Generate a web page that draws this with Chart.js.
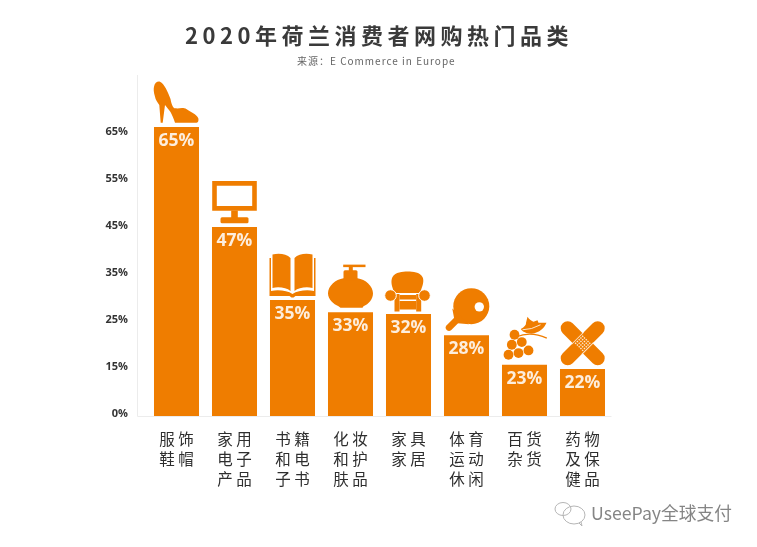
<!DOCTYPE html>
<html>
<head>
<meta charset="utf-8">
<style>
  html, body { margin: 0; padding: 0; background: #fff; }
  #wrap { width: 757px; height: 547px; }
</style>
<script src="https://cdn.jsdelivr.net/npm/chart.js@4"></script>
</head>
<body>
<div id="wrap"><canvas id="chart"></canvas></div>
<script>
const titleText = '2020年荷兰消费者网购热门品类';
const sourceText = '来源：E Commerce in Europe';
const watermarkText = 'UseePay全球支付';

const categories = [
  ['服 饰', '鞋 帽'],
  ['家 用', '电 子', '产 品'],
  ['书 籍', '和 电', '子 书'],
  ['化 妆', '和 护', '肤 品'],
  ['家 具', '家 居'],
  ['体 育', '运 动', '休 闲'],
  ['百 货', '杂 货'],
  ['药 物', '及 保', '健 品']
];
// printed share on each bar
const barLabels = ['65%', '47%', '35%', '33%', '32%', '28%', '23%', '22%'];
// bar height, in axis steps (the printed ticks are evenly spaced but not evenly valued)
const barHeights = [6.15, 4.02, 2.47, 2.21, 2.17, 1.72, 1.09, 1.0];
const tickLabels = ['0%', '15%', '25%', '35%', '45%', '55%', '65%'];

const ORANGE = '#ef7d00';

// icons sit on top of the bars, local coordinates: 0,0 is the middle of the bar top
function fillPath(ctx, d) {
  ctx.fill(new Path2D(d));
}

function drawShoe(ctx) {
  fillPath(ctx, 'M-16.5,-45.3 C-12,-43 -9,-36 -6,-28 C-5,-22 -3,-18.7 -1.5,-18.7 C3,-18 6,-20 10.2,-17.7 C14,-15 20,-13 21.8,-8.7 C22.5,-5.5 21,-4.3 20.2,-4.3 L-1.5,-4.3 C-3,-9 -4.5,-12 -6,-15 C-8,-18 -10,-20 -11.5,-22 L-13.8,-4.3 L-15.8,-4.3 L-17.2,-22 C-19,-25 -21,-27 -21.5,-30.3 C-23,-35 -23,-38 -22.5,-40.3 C-22,-44 -19,-46 -16.5,-45.3 Z');
}

function drawMonitor(ctx) {
  ctx.fill(new Path2D('M-22.3,-46 H22.3 V-16.3 H-22.3 Z M-17.7,-41.3 V-21 H17.7 V-41.3 Z'), 'evenodd');
  ctx.fillRect(-3.3, -16.5, 6.6, 8);
  ctx.beginPath();
  ctx.roundRect(-14, -9.7, 28, 6, 1.5);
  ctx.fill();
}

function drawBook(ctx) {
  fillPath(ctx, 'M-2,-42 C-6,-46 -13,-47 -20,-45.5 L-20,-12 C-13,-13.5 -6,-12 -2,-9 Z');
  fillPath(ctx, 'M2,-42 C6,-46 13,-47 20,-45.5 L20,-12 C13,-13.5 6,-12 2,-9 Z');
  fillPath(ctx, 'M-23,-42 L-23,-4 L-3,-4 L-1,-2.5 L1,-2.5 L3,-4 L23,-4 L23,-42 L21.5,-42 L21.5,-9 C13,-10.5 5,-9 0,-6 C-5,-9 -13,-10.5 -21.5,-9 L-21.5,-42 Z');
}

function drawBottle(ctx) {
  fillPath(ctx, 'M-7,-34 C-15,-33 -22.5,-26 -22.5,-19 C-22.5,-13 -17,-8 -12,-6 L-10,-4.5 L12,-4.5 L13,-6 C18,-8 22.5,-13 22.5,-19 C22.5,-26 15,-33 7,-34 Z');
  ctx.beginPath();
  ctx.roundRect(-7, -42, 14, 10, 1.5);
  ctx.fill();
  ctx.fillRect(-1.7, -47, 4, 6);
  ctx.fillRect(-7.3, -47.5, 22.3, 2.5);
}

function drawSofa(ctx) {
  fillPath(ctx, 'M-14,-21 C-17,-28 -18,-33 -16,-37 C-13,-42 -6,-42.5 -1,-42.5 C5,-42.5 11,-42 14,-37 C16,-33 14,-28 11.5,-21 Z');
  ctx.fillRect(-14, -20, 5, 17.5);
  ctx.fillRect(7.7, -20, 5, 17.5);
  ctx.fillRect(-9, -19, 16.7, 4.5);
  ctx.fillRect(-9, -13, 16.7, 8.5);
  // curled arms, split from the frame by a thin white edge
  ctx.strokeStyle = '#fff';
  ctx.lineWidth = 1;
  [[-18, -18.5], [16, -18.5]].forEach(([ax, ay]) => {
    ctx.beginPath();
    ctx.arc(ax, ay, 5.8, 0, Math.PI * 2);
    ctx.fill();
    ctx.stroke();
  });
}

function drawPaddle(ctx) {
  ctx.beginPath();
  ctx.arc(4.8, -29, 18, 0, Math.PI * 2);
  ctx.fill();
  fillPath(ctx, 'M-14.2,-26.7 L-12,-15 L-9,-12 L2.5,-11 Z');
  ctx.strokeStyle = ORANGE;
  ctx.lineWidth = 6.5;
  ctx.lineCap = 'round';
  ctx.beginPath();
  ctx.moveTo(-9, -16);
  ctx.lineTo(-17.5, -7.5);
  ctx.stroke();
  ctx.fillStyle = '#fff';
  ctx.beginPath();
  ctx.arc(12.8, -28.3, 4.7, 0, Math.PI * 2);
  ctx.fill();
}

function drawGrapes(ctx) {
  const balls = [[-10, -30], [-2.7, -22.7], [-12.7, -20], [4, -14.3], [-6, -11.7], [-16, -10]];
  balls.forEach(([bx, by]) => {
    ctx.beginPath();
    ctx.arc(bx, by, 4.9, 0, Math.PI * 2);
    ctx.fill();
  });
  fillPath(ctx, 'M3,-48 C5,-45 7,-44 9,-43 L13,-44.5 L14,-42 L22,-42 C20,-37 15,-32 7,-31 C2,-31 -2,-33 -3.7,-35.7 C0,-38 2,-40 1.5,-42 Z');
  ctx.strokeStyle = ORANGE;
  ctx.lineWidth = 1.3;
  ctx.beginPath();
  ctx.moveTo(-8, -28);
  ctx.quadraticCurveTo(6, -34, 22.3, -26.7);
  ctx.stroke();
  ctx.strokeStyle = '#fff';
  ctx.lineWidth = 0.8;
  ctx.beginPath();
  ctx.moveTo(-2, -35);
  ctx.quadraticCurveTo(7, -35, 16, -40);
  ctx.stroke();
}

function drawBandage(ctx) {
  ctx.translate(0.2, -25.7);
  ctx.lineCap = 'round';
  ctx.lineWidth = 14;
  ctx.strokeStyle = ORANGE;
  ctx.beginPath();
  ctx.moveTo(-15, -15);
  ctx.lineTo(15, 15);
  ctx.moveTo(-15, 15);
  ctx.lineTo(15, -15);
  ctx.stroke();
  ctx.rotate(-Math.PI / 4);
  // edges of the top strip and the dotted pad in the middle
  ctx.fillStyle = '#fde9d2';
  ctx.fillRect(-8.5, -7.6, 17, 0.9);
  ctx.fillRect(-8.5, 6.7, 17, 0.9);
  for (let i = -2; i <= 2; i++) {
    for (let j = -2; j <= 2; j++) {
      ctx.fillRect(i * 2.5 - 0.7, j * 2.5 - 0.7, 1.4, 1.4);
    }
  }
}

const icons = [drawShoe, drawMonitor, drawBook, drawBottle, drawSofa, drawPaddle, drawGrapes, drawBandage];

const decorations = {
  id: 'decorations',
  afterDraw(chart) {
    const ctx = chart.ctx;
    const area = chart.chartArea;
    const bars = chart.getDatasetMeta(0).data;

    // faint axis lines
    ctx.save();
    ctx.strokeStyle = '#ececec';
    ctx.lineWidth = 1;
    ctx.beginPath();
    ctx.moveTo(137.5, 75);
    ctx.lineTo(137.5, area.bottom + 0.5);
    ctx.lineTo(area.right, area.bottom + 0.5);
    ctx.stroke();
    ctx.restore();

    bars.forEach((bar, i) => {
      ctx.save();
      ctx.translate(bar.x, bar.y);
      ctx.fillStyle = ORANGE;
      icons[i](ctx);
      ctx.restore();

      ctx.save();
      ctx.font = "bold 17.5px 'Open Sans'";
      ctx.fillStyle = '#fdeedd';
      ctx.textAlign = 'center';
      ctx.textBaseline = 'middle';
      ctx.fillText(barLabels[i], bar.x, bar.y + 14);
      ctx.restore();
    });

    // title and source have letter spacing, the title plugin can't do that
    ctx.save();
    ctx.textAlign = 'left';
    ctx.textBaseline = 'middle';
    ctx.font = "bold 22px 'Noto Sans CJK SC'";
    ctx.letterSpacing = '4.5px';
    ctx.fillStyle = '#3a3a3a';
    ctx.fillText(titleText, 185, 36);
    ctx.font = "10px 'Noto Sans CJK SC'";
    ctx.letterSpacing = '1px';
    ctx.fillStyle = '#666';
    ctx.fillText(sourceText, 297, 61);
    ctx.restore();

    // watermark
    ctx.save();
    ctx.strokeStyle = '#b5b5b5';
    ctx.lineWidth = 1;
    ctx.beginPath();
    ctx.ellipse(563, 509, 8, 6.5, 0, 0, Math.PI * 2);
    ctx.moveTo(585, 515);
    ctx.ellipse(574, 515, 11, 9, 0, 0, Math.PI * 2);
    ctx.moveTo(579, 523);
    ctx.lineTo(582, 526);
    ctx.lineTo(581, 522);
    ctx.stroke();
    ctx.textAlign = 'left';
    ctx.textBaseline = 'middle';
    ctx.font = "17.7px 'Noto Sans CJK SC'";
    ctx.fillStyle = '#858585';
    ctx.fillText(watermarkText, 591, 513);
    ctx.restore();
  }
};

new Chart(document.getElementById('chart'), {
  type: 'bar',
  data: {
    labels: categories,
    datasets: [{
      data: barHeights,
      backgroundColor: ORANGE,
      borderWidth: 0,
      barPercentage: 0.776,
      categoryPercentage: 1
    }]
  },
  options: {
    responsive: true,
    maintainAspectRatio: false,
    animation: false,
    layout: { padding: { top: 87, right: 145.5, left: 0, bottom: 0 } },
    plugins: {
      legend: { display: false },
      tooltip: { enabled: false }
    },
    scales: {
      x: {
        grid: { display: false },
        border: { display: false },
        afterFit: (scale) => { scale.height = 131; },
        ticks: {
          autoSkip: false,
          maxRotation: 0,
          padding: 5,
          color: '#2e2e2e',
          font: { family: "'Noto Sans CJK SC'", size: 15.5, lineHeight: 1.3 }
        }
      },
      y: {
        min: 0,
        max: 7,
        grid: { display: false },
        border: { display: false },
        afterFit: (scale) => { scale.width = 147.5; },
        ticks: {
          stepSize: 1,
          padding: 11.5,
          labelOffset: -2,
          color: '#333',
          font: { family: "'Open Sans'", size: 11, weight: 'bold' },
          callback: (value) => tickLabels[value]
        }
      }
    }
  },
  plugins: [decorations]
});
</script>
</body>
</html>
